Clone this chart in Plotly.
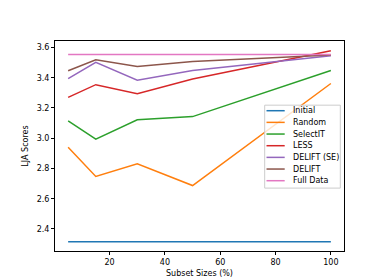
import plotly.graph_objects as go

sizes = [5, 15, 30, 50, 100]
initial = [2.316, 2.316, 2.316, 2.316, 2.316]
random_ = [2.940, 2.747, 2.831, 2.687, 3.362]
selectit = [3.114, 2.994, 3.122, 3.143, 3.448]
less = [3.270, 3.354, 3.294, 3.392, 3.579]
delift_se = [3.394, 3.502, 3.384, 3.448, 3.545]
delift = [3.446, 3.519, 3.474, 3.508, 3.551]
full_data = [3.553, 3.553, 3.553, 3.553, 3.553]

series = [
    ("Initial", initial, "#1f77b4"),
    ("Random", random_, "#ff7f0e"),
    ("SelectIT", selectit, "#2ca02c"),
    ("LESS", less, "#d62728"),
    ("DELIFT (SE)", delift_se, "#9467bd"),
    ("DELIFT", delift, "#8c564b"),
    ("Full Data", full_data, "#e377c2"),
]

W, H = 374, 280
L, R, T, B = 47, 38, 33, 31
PW, PH = W - L - R, H - T - B


def px_x(p):
    return (p - L) / PW


def px_y(p):
    return (H - B - p) / PH


fig = go.Figure()
for name, vals, color in series:
    fig.add_trace(go.Scatter(x=sizes, y=vals, mode="lines", name=name,
                             line=dict(color=color, width=1.5), showlegend=False))

font = dict(family="DejaVu Sans", size=8, color="#000000")

# manual matplotlib-style legend
shapes = [dict(type="rect", xref="paper", yref="paper",
               x0=px_x(256.7), x1=px_x(332.3), y0=px_y(184.3), y1=px_y(99),
               fillcolor="rgba(255,255,255,0.8)", line=dict(color="#cccccc", width=1),
               layer="above")]
annotations = []
for i, (name, vals, color) in enumerate(series):
    yy = 104.7 + i * 12.0
    shapes.append(dict(type="line", xref="paper", yref="paper",
                       x0=px_x(258.5), x1=px_x(276.7), y0=px_y(yy), y1=px_y(yy),
                       line=dict(color=color, width=1.5), layer="above"))
    annotations.append(dict(x=px_x(282.5), y=px_y(yy), xref="paper", yref="paper",
                            text=name, showarrow=False, xanchor="left", yanchor="middle",
                            font=font))

fig.update_layout(
    width=W, height=H,
    margin=dict(l=L, r=R, t=T, b=B),
    paper_bgcolor="white", plot_bgcolor="white",
    font=font,
    showlegend=False,
    shapes=shapes,
    annotations=annotations,
)
fig.update_xaxes(range=[0.25, 104.75], tickvals=[20, 40, 60, 80, 100],
                 showgrid=False, zeroline=False, showline=True, linecolor="#000000",
                 linewidth=1, mirror=True, ticks="outside", ticklen=3, tickcolor="#000000",
                 title=dict(text="Subset Sizes (%)", font=font, standoff=4))
fig.update_yaxes(range=[2.254, 3.643], tickvals=[2.4, 2.6, 2.8, 3.0, 3.2, 3.4, 3.6],
                 tickformat=".1f",
                 showgrid=False, zeroline=False, showline=True, linecolor="#000000",
                 linewidth=1, mirror=True, ticks="outside", ticklen=3, tickcolor="#000000",
                 title=dict(text="LJA Scores", font=font, standoff=6))

fig.write_html("out.html")
